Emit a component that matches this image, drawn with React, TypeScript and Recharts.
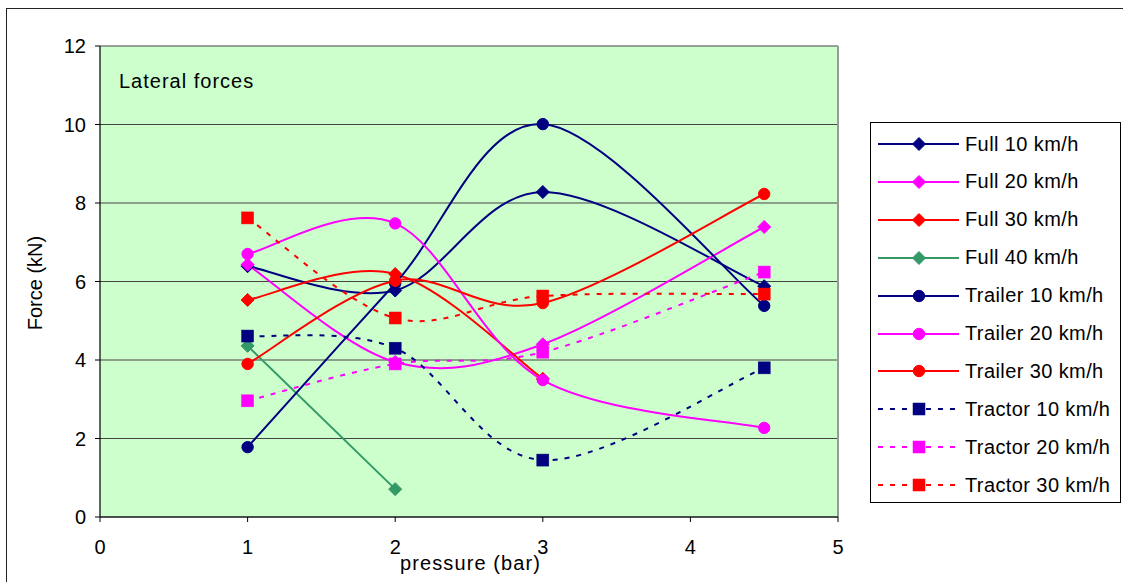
import { LineChart, Line, XAxis, YAxis, CartesianGrid, ReferenceLine } from "recharts";

const PRESSURE = [1, 2, 3, 4.5];
const X_TICKS = [0, 1, 2, 3, 4, 5];
const Y_TICKS = [0, 2, 4, 6, 8, 10, 12];

const FULL_10 = [6.39, 5.77, 8.28, 5.88];
const FULL_20 = [6.43, 3.95, 4.4, 7.39];
const FULL_30 = [5.53, 6.19, 3.52];
const FULL_40 = [4.36, 0.71];
const TRAILER_10 = [1.78, 5.95, 10.01, 5.38];
const TRAILER_20 = [6.7, 7.48, 3.49, 2.27];
const TRAILER_30 = [3.9, 6.02, 5.45, 8.23];
const TRACTOR_10 = [4.61, 4.3, 1.45, 3.8];
const TRACTOR_20 = [2.96, 3.9, 4.2, 6.24];
const TRACTOR_30 = [7.62, 5.07, 5.63, 5.68];

const NAVY = "#000080";
const PINK = "#FF00FF";
const RED = "#FF0000";
const GREEN = "#339966";
const FONT = "'Liberation Sans', Arial, sans-serif";

type Shape = "diamond" | "circle" | "square";

const SERIES: { name: string; values: number[]; color: string; shape: Shape; dashed?: boolean }[] = [
  { name: "Full 10 km/h", values: FULL_10, color: NAVY, shape: "diamond" },
  { name: "Full 20 km/h", values: FULL_20, color: PINK, shape: "diamond" },
  { name: "Full 30 km/h", values: FULL_30, color: RED, shape: "diamond" },
  { name: "Full 40 km/h", values: FULL_40, color: GREEN, shape: "diamond" },
  { name: "Trailer 10 km/h", values: TRAILER_10, color: NAVY, shape: "circle" },
  { name: "Trailer 20 km/h", values: TRAILER_20, color: PINK, shape: "circle" },
  { name: "Trailer 30 km/h", values: TRAILER_30, color: RED, shape: "circle" },
  { name: "Tractor 10 km/h", values: TRACTOR_10, color: NAVY, shape: "square", dashed: true },
  { name: "Tractor 20 km/h", values: TRACTOR_20, color: PINK, shape: "square", dashed: true },
  { name: "Tractor 30 km/h", values: TRACTOR_30, color: RED, shape: "square", dashed: true },
];

// excel-style smoothing (catmull-rom through the points)
const smooth = (context: any) => {
  let pts: number[][] = [];
  return {
    areaStart() {},
    areaEnd() {},
    lineStart() {
      pts = [];
    },
    point(x: number, y: number) {
      pts.push([+x, +y]);
    },
    lineEnd() {
      const n = pts.length;
      if (!n) return;
      context.moveTo(pts[0][0], pts[0][1]);
      if (n === 2) {
        context.lineTo(pts[1][0], pts[1][1]);
        return;
      }
      for (let i = 0; i < n - 1; i++) {
        const p0 = pts[Math.max(i - 1, 0)];
        const p1 = pts[i];
        const p2 = pts[i + 1];
        const p3 = pts[Math.min(i + 2, n - 1)];
        context.bezierCurveTo(
          p1[0] + (p2[0] - p0[0]) / 6,
          p1[1] + (p2[1] - p0[1]) / 6,
          p2[0] - (p3[0] - p1[0]) / 6,
          p2[1] - (p3[1] - p1[1]) / 6,
          p2[0],
          p2[1]
        );
      }
    },
  };
};

function Marker({ cx, cy, shape, color }: { cx: number; cy: number; shape: Shape; color: string }) {
  if (shape === "diamond") {
    const r = 6.5;
    return <polygon points={`${cx},${cy - r} ${cx + r},${cy} ${cx},${cy + r} ${cx - r},${cy}`} fill={color} stroke={color} />;
  }
  if (shape === "circle") return <circle cx={cx} cy={cy} r={5.7} fill={color} stroke={color} />;
  return <rect x={cx - 6} y={cy - 6} width={12} height={12} fill={color} stroke={color} strokeWidth={0.5} />;
}

function LegendBox() {
  return (
    <div
      style={{
        position: "absolute",
        left: 870,
        top: 122,
        width: 249,
        height: 379,
        border: "1px solid #000",
        background: "#fff",
        fontFamily: FONT,
        fontSize: 20,
      }}
    >
      {SERIES.map((s, i) => (
        <div key={s.name} style={{ position: "absolute", left: 0, top: 2 + i * 37.9, height: 38, display: "flex", alignItems: "center" }}>
          <svg width={94} height={38} style={{ display: "block" }}>
            <line x1={7} x2={88} y1={19} y2={19} stroke={s.color} strokeWidth={2} strokeDasharray={s.dashed ? "5 7" : undefined} />
            <Marker cx={48} cy={19} shape={s.shape} color={s.color} />
          </svg>
          <span style={{ whiteSpace: "nowrap", letterSpacing: 0.4 }}>{s.name}</span>
        </div>
      ))}
    </div>
  );
}

export default function App() {
  return (
    <div style={{ position: "absolute", left: 0, top: 0, width: 1123, height: 582, background: "#fff", overflow: "hidden", fontFamily: FONT }}>
      <div style={{ position: "absolute", left: 6, top: 8, width: 1140, height: 600, border: "1.5px solid #222" }} />
      <LineChart width={1123} height={582} margin={{ top: 46, right: 285, bottom: 35, left: 40 }}>
        <CartesianGrid vertical={false} stroke="#444" strokeWidth={1.2} fill="#CCFFCC" fillOpacity={1} />
        <XAxis
          dataKey="p"
          type="number"
          domain={[0, 5]}
          ticks={X_TICKS}
          height={30}
          allowDuplicatedCategory={false}
          axisLine={{ stroke: "#000", strokeWidth: 1.2 }}
          tickLine={{ stroke: "#000" }}
          tickSize={5}
          tickMargin={18}
          tick={{ fill: "#000", fontSize: 20, fontFamily: FONT }}
        />
        <YAxis
          type="number"
          domain={[0, 12]}
          ticks={Y_TICKS}
          width={60}
          axisLine={{ stroke: "#000", strokeWidth: 1.2 }}
          tickLine={{ stroke: "#000" }}
          tickSize={5}
          tickMargin={9}
          tick={{ fill: "#000", fontSize: 20, fontFamily: FONT }}
        />
        <ReferenceLine x={5} stroke="#999" strokeWidth={2} ifOverflow="extendDomain" />
        {SERIES.map((s) => (
          <Line
            key={s.name}
            name={s.name}
            data={s.values.map((v, i) => ({ p: PRESSURE[i], f: v }))}
            dataKey="f"
            type={smooth as any}
            stroke={s.color}
            strokeWidth={2}
            strokeDasharray={s.dashed ? "5 7" : undefined}
            isAnimationActive={false}
            activeDot={false}
            dot={(props: any) => <Marker key={`${s.name}-${props.index}`} cx={props.cx} cy={props.cy} shape={s.shape} color={s.color} />}
          />
        ))}
      </LineChart>
      <div style={{ position: "absolute", left: 119, top: 70, fontSize: 20, letterSpacing: 1, color: "#000" }}>Lateral forces</div>
      <div style={{ position: "absolute", left: 400, top: 552, fontSize: 20, letterSpacing: 1.1, color: "#000" }}>pressure (bar)</div>
      <div
        style={{
          position: "absolute",
          left: 35,
          top: 283,
          fontSize: 20,
          color: "#000",
          whiteSpace: "nowrap",
          transform: "translate(-50%, -50%) rotate(-90deg)",
        }}
      >
        Force (kN)
      </div>
      <LegendBox />
    </div>
  );
}
